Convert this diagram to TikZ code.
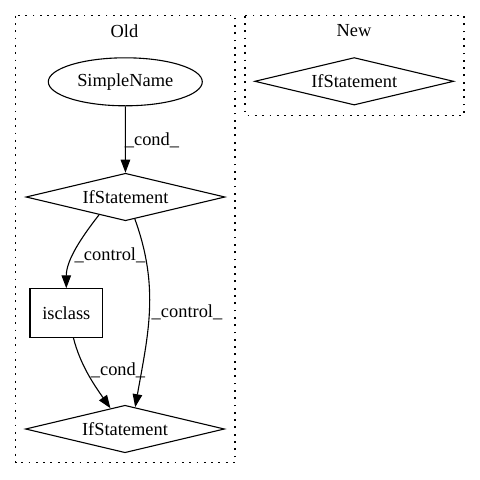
\documentclass[tikz,border=0pt]{standalone}
\usepackage{fontspec}
\setmainfont{Liberation Serif}
\usetikzlibrary{shapes.geometric,arrows.meta}
\begin{document}
\begin{tikzpicture}[x=1pt,y=-1pt,
  every node/.style={font=\fontsize{18.4}{20}\selectfont, inner sep=0pt},
  cluster/.style={draw, line width=1.3pt, dash pattern=on 1.8pt off 5.5pt},
  dia/.style={draw, diamond, line width=1.1pt, minimum width=199pt, minimum height=47.5pt, aspect=4.2},
  ell/.style={draw, ellipse, line width=1.1pt, minimum width=154pt, minimum height=48pt},
  box/.style={draw, rectangle, line width=1.1pt, minimum width=72.7pt, minimum height=48.3pt},
  arr/.style={line width=1.1pt, -{Triangle[length=13pt,width=9.5pt]}},
  lbl/.style={fill=none}]
\useasboundingbox (0,0) rectangle (480,480);
\draw[cluster] (15.7,15.7) rectangle (235,462.7);
\draw[cluster] (245,15.7) rectangle (464,115.3);
\node (oldlbl) at (124.5,31) {Old};
\node (newlbl) at (354,31) {New};
\node[ell] (sn) at (125.3,81.8) {SimpleName};
\node[dia] (if1) at (125.5,197) {IfStatement};
\node[dia] (ifn) at (354.2,81.3) {IfStatement};
\node[box] (isc) at (66.3,313) {isclass};
\node[dia] (if2) at (125,429) {IfStatement};
\draw[arr] (sn) -- (if1);
\draw[arr] (if1.214) to[out=232,in=90,looseness=0.9] (isc.north);
\draw[arr] (if1.293) to[out=-70,in=80,looseness=1] (if2.65.6);
\draw[arr] (isc.286) to[out=-76,in=125,looseness=0.9] (if2.125.5);
\node[lbl] (l1) at (152,140) {\_cond\_};
\node[lbl] (l2) at (110,255) {\_control\_};
\node[lbl] (l3) at (187,312) {\_control\_};
\node[lbl] (l4) at (118,370) {\_cond\_};
\end{tikzpicture}
\end{document}
